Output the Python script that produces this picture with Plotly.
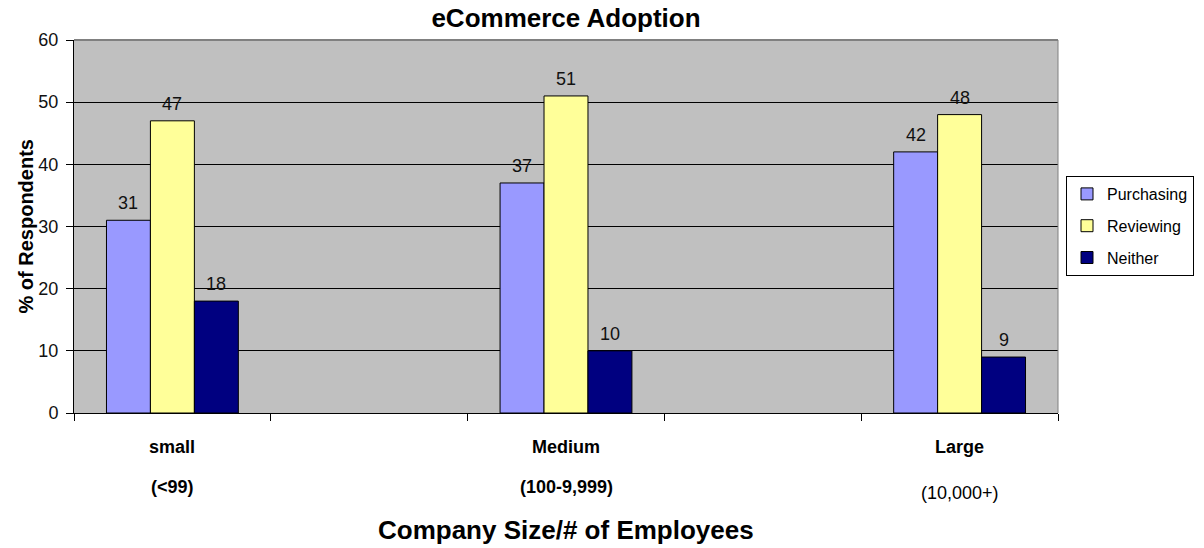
import plotly.graph_objects as go

# ---- data ----
categories = ["small", "Medium", "Large"]
sublabels = ["(<99)", "(100-9,999)", "(10,000+)"]
slot_positions = [0, 2, 4]          # 5 category slots, with empty slots between groups
series_names = ["Purchasing", "Reviewing", "Neither"]
purchasing = [31, 37, 42]
reviewing = [47, 51, 48]
neither = [18, 10, 9]
y_ticks = [0, 10, 20, 30, 40, 50, 60]

colors = ["#9999FF", "#FFFF99", "#000080"]
series_values = [purchasing, reviewing, neither]

FONT = "Arial, Liberation Sans, sans-serif"
BARGAP = 0.665
n_series = len(series_names)
bar_w = (slot_positions[1] - slot_positions[0]) * (1 - BARGAP) / n_series

fig = go.Figure()
for i, (name, vals, col) in enumerate(zip(series_names, series_values, colors)):
    fig.add_trace(go.Bar(
        x=slot_positions, y=vals, name=name, legendgroup=name,
        marker=dict(color=col, line=dict(color="black", width=1)),
    ))

annotations = []
# data labels
for i, vals in enumerate(series_values):
    for p, v in zip(slot_positions, vals):
        annotations.append(dict(
            x=p + (i - (n_series - 1) / 2) * bar_w, y=v, xref="x", yref="y",
            text=str(v), showarrow=False, yanchor="bottom", yshift=5,
            font=dict(family=FONT, size=18, color="#111"),
        ))
# category labels
for k, (p, c, s) in enumerate(zip(slot_positions, categories, sublabels)):
    annotations.append(dict(
        x=p, y=0, xref="x", yref="paper", text="<b>%s</b>" % c, showarrow=False,
        yanchor="middle", yshift=-34, font=dict(family=FONT, size=18, color="black"),
    ))
    last = (k == len(categories) - 1)
    annotations.append(dict(
        x=p, y=0, xref="x", yref="paper",
        text=(s.replace("<", "&lt;") if last else "<b>%s</b>" % s.replace("<", "&lt;")),
        showarrow=False, yanchor="middle", yshift=(-80 if last else -74),
        font=dict(family=FONT, size=18, color="black"),
    ))
# axis titles
annotations.append(dict(
    x=0.5, y=0, xref="paper", yref="paper", text="<b>Company Size/# of Employees</b>",
    showarrow=False, yanchor="middle", yshift=-117,
    font=dict(family=FONT, size=26, color="black"),
))
annotations.append(dict(
    x=0, y=0.5, xref="paper", yref="paper", text="<b>% of Respondents</b>",
    showarrow=False, xanchor="center", yanchor="middle", xshift=-49, textangle=-90,
    font=dict(family=FONT, size=20, color="black"),
))

fig.update_layout(
    width=1204, height=548,
    margin=dict(l=74, r=146, t=40, b=135, autoexpand=False),
    paper_bgcolor="white", plot_bgcolor="#C0C0C0",
    barmode="group", bargap=BARGAP, bargroupgap=0,
    title=dict(text="<b>eCommerce Adoption</b>", x=0.5, xref="paper", y=1 - 18 / 548,
               yanchor="middle", font=dict(family=FONT, size=26, color="black")),
    xaxis=dict(
        range=[-0.5, 4.5], tickvals=[-0.5, 0.5, 1.5, 2.5, 3.5, 4.5],
        ticktext=[""] * 6, ticks="outside", ticklen=7, tickcolor="black",
        showline=True, linecolor="black", linewidth=1, showgrid=False, zeroline=False,
    ),
    yaxis=dict(
        range=[0, 60], tickvals=y_ticks, ticks="outside", ticklen=7, tickcolor="black",
        showline=True, linecolor="black", linewidth=1, showgrid=True,
        gridcolor="black", gridwidth=1, zeroline=False, ticklabelstandoff=4,
        tickfont=dict(family=FONT, size=18, color="#111"),
    ),
    legend=dict(
        xref="container", yref="container",
        x=1066 / 1204, xanchor="left", y=1 - 226 / 548, yanchor="middle",
        bordercolor="black", borderwidth=1, bgcolor="white",
        font=dict(family=FONT, size=16, color="black"),
        tracegroupgap=8, itemwidth=30,
    ),
    annotations=annotations,
    shapes=[
        dict(type="line", xref="paper", yref="paper", x0=0, x1=1, y0=1, y1=1,
             line=dict(color="#808080", width=2), layer="above"),
        dict(type="line", xref="paper", yref="paper", x0=1, x1=1, y0=0, y1=1,
             line=dict(color="#808080", width=1), layer="above"),
    ],
)

fig.write_html("out.html")
